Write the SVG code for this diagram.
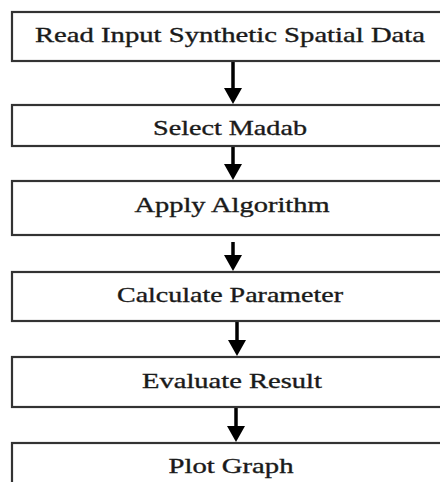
<svg xmlns="http://www.w3.org/2000/svg" width="440" height="482" viewBox="0 0 440 482">
<defs>
<style>
.box{fill:#fff;stroke:#333;stroke-width:2.2}
.lbl{font-family:"Liberation Serif","Times New Roman",serif;font-size:21px;fill:#1a1a1a;stroke:#1a1a1a;stroke-width:0.35;text-anchor:middle}
.shaft{stroke:#000;stroke-width:3.5;fill:none}
.head{fill:#000}
</style>
</defs>
<rect width="440" height="482" fill="#fff"/>
<g id="connectors">
<line class="shaft" x1="233" y1="61" x2="233" y2="92"/>
<polygon class="head" points="224,88 242,88 233,104"/>
<line class="shaft" x1="233" y1="146" x2="233" y2="168"/>
<polygon class="head" points="224,164 242,164 233,180"/>
<line class="shaft" x1="233" y1="242" x2="233" y2="259"/>
<polygon class="head" points="224,255 242,255 233,271"/>
<line class="shaft" x1="237" y1="321" x2="237" y2="344"/>
<polygon class="head" points="228,340 246,340 237,356"/>
<line class="shaft" x1="236" y1="407" x2="236" y2="430"/>
<polygon class="head" points="227,426 245,426 236,442"/>
</g>
<g id="n1"><rect class="box" x="12" y="12" width="440" height="49"/><text class="lbl" x="230" y="42" textLength="390" lengthAdjust="spacingAndGlyphs">Read Input Synthetic Spatial Data</text></g>
<g id="n2"><rect class="box" x="12" y="105" width="440" height="41"/><text class="lbl" x="230" y="135" textLength="154" lengthAdjust="spacingAndGlyphs">Select Madab</text></g>
<g id="n3"><rect class="box" x="12" y="181" width="440" height="54"/><text class="lbl" x="232" y="212" textLength="195" lengthAdjust="spacingAndGlyphs">Apply Algorithm</text></g>
<g id="n4"><rect class="box" x="12" y="272" width="440" height="49"/><text class="lbl" x="230" y="302" textLength="226" lengthAdjust="spacingAndGlyphs">Calculate Parameter</text></g>
<g id="n5"><rect class="box" x="12" y="357" width="440" height="50"/><text class="lbl" x="232" y="388" textLength="180" lengthAdjust="spacingAndGlyphs">Evaluate Result</text></g>
<g id="n6"><rect class="box" x="12" y="443" width="440" height="60"/><text class="lbl" x="231" y="473" textLength="125" lengthAdjust="spacingAndGlyphs">Plot Graph</text></g>
</svg>
